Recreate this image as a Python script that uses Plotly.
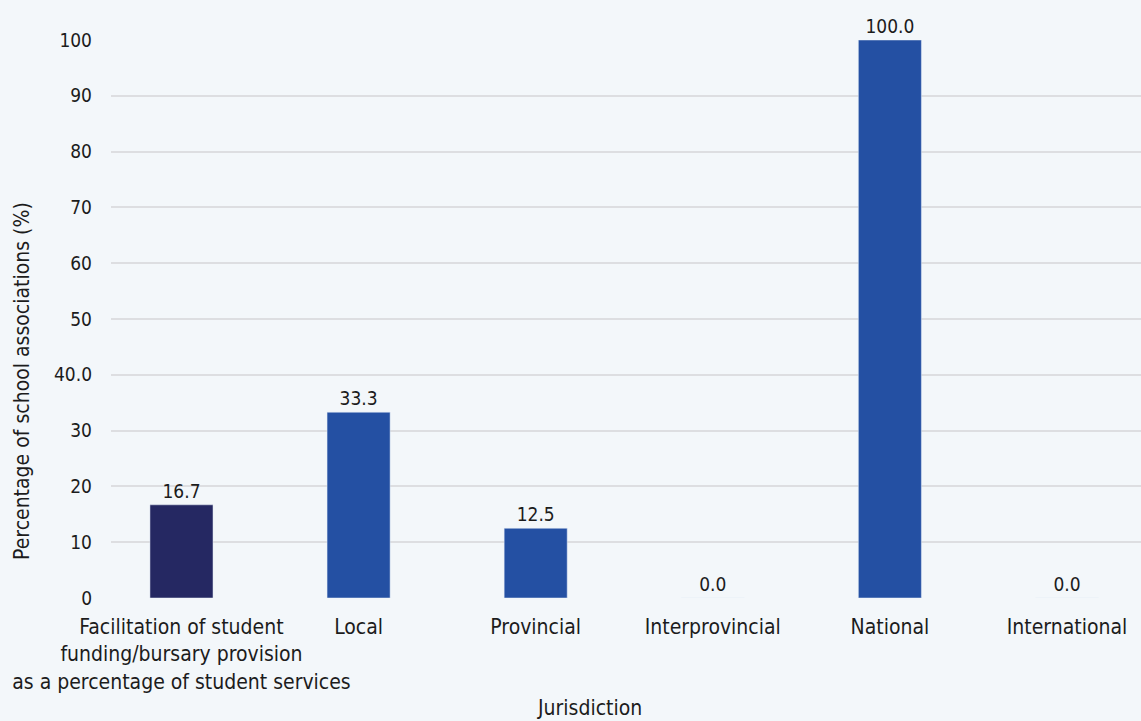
import plotly.graph_objects as go

categories = ["Facilitation of student<br>funding/bursary provision<br>as a percentage of student services",
              "Local", "Provincial", "Interprovincial", "National", "International"]
cat_keys = ["Facilitation", "Local", "Provincial", "Interprovincial", "National", "International"]
values = [16.7, 33.3, 12.5, 0.0, 100.0, 0.0]
value_labels = ["16.7", "33.3", "12.5", "0.0", "100.0", "0.0"]
bar_colors = ["#252862", "#2450a3", "#2450a3", "#2450a3", "#2450a3", "#2450a3"]
y_tickvals = [0, 10, 20, 30, 40, 50, 60, 70, 80, 90, 100]
y_ticktext = ["0", "10", "20", "30", "40.0", "50", "60", "70", "80", "90", "100"]

FONT = "DejaVu Sans Condensed, DejaVu Sans, sans-serif"
TXT = "#1c1c1c"

fig = go.Figure()
fig.add_trace(go.Bar(
    x=cat_keys, y=values, marker_color=bar_colors, width=0.356,
    text=value_labels, textposition="outside", cliponaxis=False,
    textfont=dict(family=FONT, size=19, color=TXT),
    hoverinfo="skip",
))

fig.update_layout(
    width=1141, height=721,
    margin=dict(l=111, r=0, t=40, b=123),
    paper_bgcolor="#f3f7fa", plot_bgcolor="#f3f7fa",
    showlegend=False,
    font=dict(family=FONT, color=TXT),
    xaxis=dict(
        type="category", range=[-0.398, 5.418], automargin=False,
        tickmode="array", tickvals=cat_keys, ticktext=categories, tickangle=0,
        tickfont=dict(family=FONT, size=21, color=TXT),
        showgrid=False, zeroline=False, showline=False, ticks="",
        ticklabelstandoff=14,
    ),
    yaxis=dict(
        range=[0, 100], automargin=False,
        tickmode="array", tickvals=y_tickvals, ticktext=y_ticktext,
        tickfont=dict(family=FONT, size=19, color=TXT),
        showgrid=True, gridcolor="#dddee1", gridwidth=1.5,
        zeroline=False, showline=False, ticks="",
        ticklabelstandoff=18,
    ),
    annotations=[
        dict(text="Percentage of school associations (%)", textangle=-90,
             xref="paper", yref="paper", x=-0.0864, y=0.389, xanchor="center", yanchor="middle",
             showarrow=False, font=dict(family=FONT, size=21, color=TXT)),
        dict(text="Jurisdiction", xref="paper", yref="paper", x=0.465, y=0.0, yshift=-110,
             xanchor="center", yanchor="middle",
             showarrow=False, font=dict(family=FONT, size=21, color=TXT)),
    ],
)

fig.write_html("out.html")
